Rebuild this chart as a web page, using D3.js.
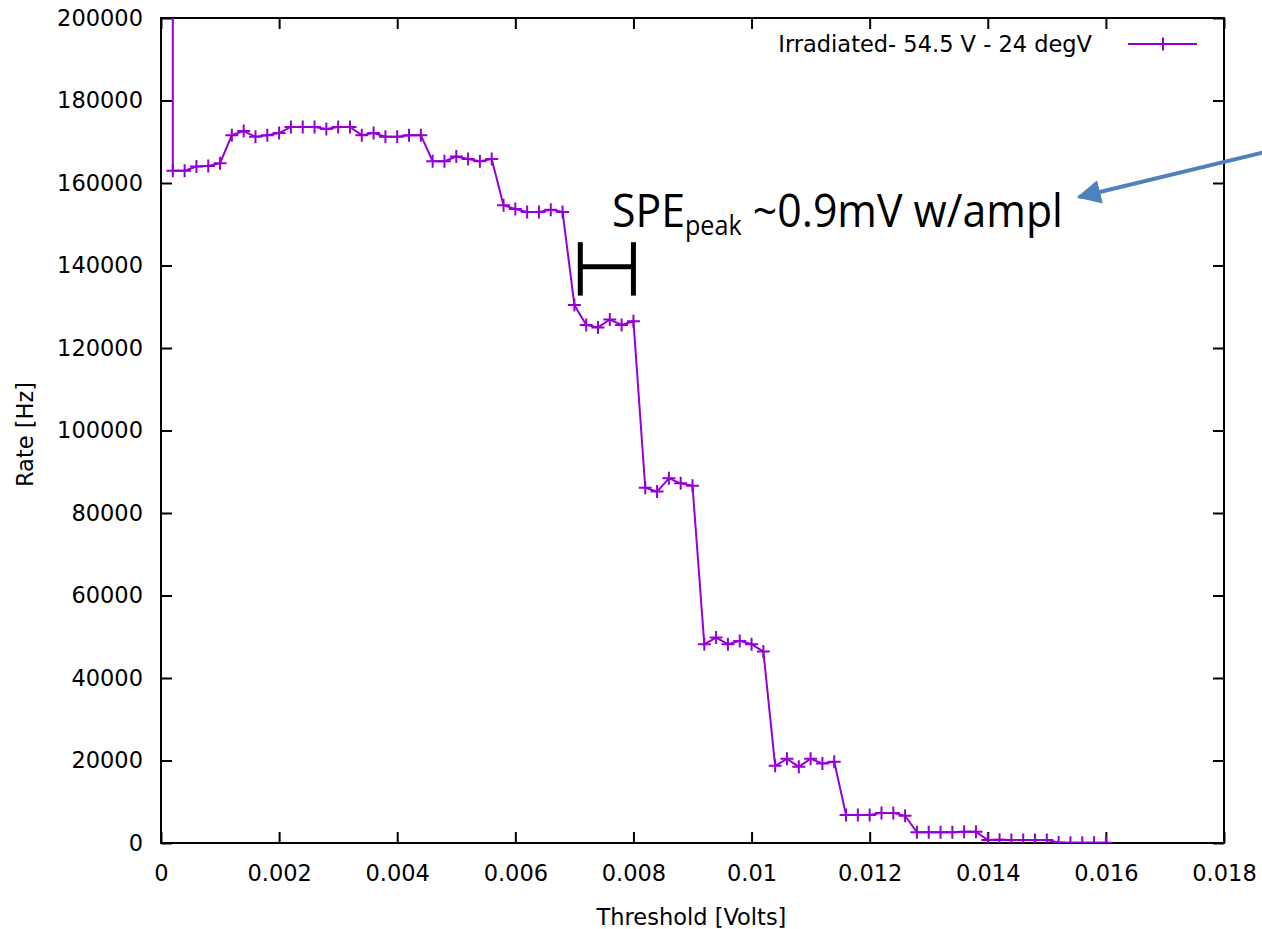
<!DOCTYPE html>
<html>
<head>
<meta charset="utf-8">
<title>Rate vs threshold</title>
<script src="https://d3js.org/d3.v7.min.js"></script>
<style>
  body { margin: 0; background: #fff; }
  svg { display: block; }
  text { font-family: "DejaVu Sans", sans-serif; fill: #000; }
</style>
</head>
<body>
<svg width="1262" height="929"></svg>
<script>

// threshold values [V]; the first point sits off the top of the plot
var thresholds = [0.0002,
  0.0002, 0.0004, 0.0006, 0.0008, 0.001, 0.0012, 0.0014, 0.0016, 0.0018, 0.002,
  0.0022, 0.0024, 0.0026, 0.0028, 0.003, 0.0032, 0.0034, 0.0036, 0.0038, 0.004,
  0.0042, 0.0044, 0.0046, 0.0048, 0.005, 0.0052, 0.0054, 0.0056, 0.0058, 0.006,
  0.0062, 0.0064, 0.0066, 0.0068, 0.007, 0.0072, 0.0074, 0.0076, 0.0078, 0.008,
  0.0082, 0.0084, 0.0086, 0.0088, 0.009, 0.0092, 0.0094, 0.0096, 0.0098, 0.01,
  0.0102, 0.0104, 0.0106, 0.0108, 0.011, 0.0112, 0.0114, 0.0116, 0.0118, 0.012,
  0.0122, 0.0124, 0.0126, 0.0128, 0.013, 0.0132, 0.0134, 0.0136, 0.0138, 0.014,
  0.0142, 0.0144, 0.0146, 0.0148, 0.015, 0.0152, 0.0154, 0.0156, 0.0158, 0.016];

// rate [Hz]
var rates = [300000,
  163000, 163000, 164000, 164100, 164800, 171600, 172600, 171200, 171600, 172100,
  173600, 173600, 173600, 173100, 173600, 173600, 171600, 172100, 171200, 171200,
  171600, 171600, 165300, 165300, 166400, 165800, 165300, 165800, 154600, 153700,
  153000, 153000, 153500, 153000, 130400, 125600, 125000, 126900, 125600, 126500,
  86100, 85200, 88400, 87200, 86600, 48200, 49800, 48200, 49000, 48200,
  46400, 18700, 20400, 18500, 20400, 19300, 19700, 6800, 6800, 6800,
  7300, 7300, 6600, 2600, 2600, 2600, 2600, 2700, 2700, 700,
  800, 750, 750, 700, 700, 100, 80, 60, 50, 40];

var xTicks = [0, 0.002, 0.004, 0.006, 0.008, 0.01, 0.012, 0.014, 0.016, 0.018];
var xTickLabels = ["0", "0.002", "0.004", "0.006", "0.008", "0.01", "0.012", "0.014", "0.016", "0.018"];
var yTicks = [0, 20000, 40000, 60000, 80000, 100000, 120000, 140000, 160000, 180000, 200000];
var yTickLabels = ["0", "20000", "40000", "60000", "80000", "100000", "120000", "140000", "160000", "180000", "200000"];

var seriesName = "Irradiated- 54.5 V - 24 degV";
// the bracket marks one SPE step, 0.0071 .. 0.008 V
var spanFrom = 0.0071, spanTo = 0.008, spanRate = 139700, spanHalf = 7000;

var margin = {top: 18, right: 38, bottom: 86, left: 161};
var W = 1262, H = 929;
var w = W - margin.left - margin.right, h = H - margin.top - margin.bottom;

var data = thresholds.map(function(t, i) { return {x: t, y: rates[i]}; });

var x = d3.scaleLinear().domain([0, 0.018]).range([0, w]);
var y = d3.scaleLinear().domain([0, 200000]).range([h, 0]);

var svg = d3.select("svg");
var g = svg.append("g").attr("transform", "translate(" + margin.left + "," + margin.top + ")");

g.append("clipPath").attr("id", "clip")
  .append("rect").attr("width", w).attr("height", h);

// inward ticks on all four sides, labels on bottom and left
var tickLen = 11;
g.append("g").attr("transform", "translate(0," + h + ")")
  .call(d3.axisBottom(x).tickValues(xTicks).tickSizeInner(-tickLen).tickSizeOuter(0).tickPadding(22)
    .tickFormat(function(d, i) { return xTickLabels[i]; }))
  .call(function(a) { a.select(".domain").remove(); a.selectAll("text").style("font-size", "22.5px"); });
g.append("g")
  .call(d3.axisTop(x).tickValues(xTicks).tickSizeInner(-tickLen).tickSizeOuter(0).tickFormat(""))
  .call(function(a) { a.select(".domain").remove(); });
g.append("g")
  .call(d3.axisLeft(y).tickValues(yTicks).tickSizeInner(-tickLen).tickSizeOuter(0).tickPadding(18)
    .tickFormat(function(d, i) { return yTickLabels[i]; }))
  .call(function(a) { a.select(".domain").remove(); a.selectAll("text").style("font-size", "22.5px"); });
g.append("g").attr("transform", "translate(" + w + ",0)")
  .call(d3.axisRight(y).tickValues(yTicks).tickSizeInner(-tickLen).tickSizeOuter(0).tickFormat(""))
  .call(function(a) { a.select(".domain").remove(); });
g.selectAll(".tick line").attr("stroke", "#000").attr("stroke-width", 2);
g.selectAll(".tick text").attr("fill", "#000").style("font-family", "DejaVu Sans");

g.append("rect").attr("width", w).attr("height", h)
  .attr("fill", "none").attr("stroke", "#000").attr("stroke-width", 2);

// series
var color = "#9400d3";
var line = d3.line().x(function(d) { return x(d.x); }).y(function(d) { return y(d.y); });
var plot = g.append("g").attr("clip-path", "url(#clip)");
plot.append("path").datum(data).attr("d", line)
  .attr("fill", "none").attr("stroke", color).attr("stroke-width", 2);

var m = 6.5;
var plus = function(cx, cy) { return "M" + (cx - m) + "," + cy + "H" + (cx + m) + "M" + cx + "," + (cy - m) + "V" + (cy + m); };
plot.selectAll("path.pt").data(data.slice(1)).enter().append("path").attr("class", "pt")
  .attr("d", function(d) { return plus(x(d.x), y(d.y)); })
  .attr("stroke", color).attr("stroke-width", 2);

// legend
var ly = 26;
g.append("text").attr("x", 931).attr("y", ly).attr("dy", "0.35em")
  .attr("text-anchor", "end").style("font-size", "22.5px").text(seriesName);
g.append("line").attr("x1", 967).attr("x2", 1036).attr("y1", ly).attr("y2", ly)
  .attr("stroke", color).attr("stroke-width", 2);
g.append("path").attr("d", plus(1002, ly)).attr("stroke", color).attr("stroke-width", 2);

// axis titles
svg.append("text").attr("x", margin.left + w / 2 - 1).attr("y", 925)
  .attr("text-anchor", "middle").style("font-size", "22.5px").text("Threshold [Volts]");
svg.append("text").attr("transform", "translate(33," + (margin.top + h / 2 + 4) + ") rotate(-90)")
  .attr("text-anchor", "middle").style("font-size", "22.5px").text("Rate [Hz]");

// SPE bracket
var br = g.append("g").attr("stroke", "#000").attr("stroke-width", 5);
br.append("line").attr("x1", x(spanFrom)).attr("x2", x(spanTo)).attr("y1", y(spanRate)).attr("y2", y(spanRate));
[spanFrom, spanTo].forEach(function(v) {
  br.append("line").attr("x1", x(v)).attr("x2", x(v))
    .attr("y1", y(spanRate + spanHalf * 0.85)).attr("y2", y(spanRate - spanHalf));
});

// annotation text
var note = svg.append("text").attr("x", 0).attr("y", 0)
  .style("font-family", "'Open Sans', sans-serif").style("font-size", "46px");
note.append("tspan").text("SPE");
note.append("tspan").attr("dy", 8).style("font-size", "27px").text("peak");
note.append("tspan").attr("dy", -8).text(" ~0.9mV w/ampl");
var nw = note.node().getComputedTextLength();
note.attr("transform", "translate(612,227) scale(" + (451 / nw) + ",1)");

// arrow
var arrowColor = "#4f81bd";
svg.append("defs").append("marker").attr("id", "arr")
  .attr("viewBox", "0 0 10 10").attr("refX", 9).attr("refY", 5)
  .attr("markerWidth", 6).attr("markerHeight", 6).attr("markerUnits", "strokeWidth")
  .attr("orient", "auto")
  .append("path").attr("d", "M0,0L10,5L0,10Z").attr("fill", arrowColor);
svg.append("line").attr("x1", 1265).attr("y1", 152).attr("x2", 1079).attr("y2", 197)
  .attr("stroke", arrowColor).attr("stroke-width", 4).attr("marker-end", "url(#arr)");

</script>
</body>
</html>
